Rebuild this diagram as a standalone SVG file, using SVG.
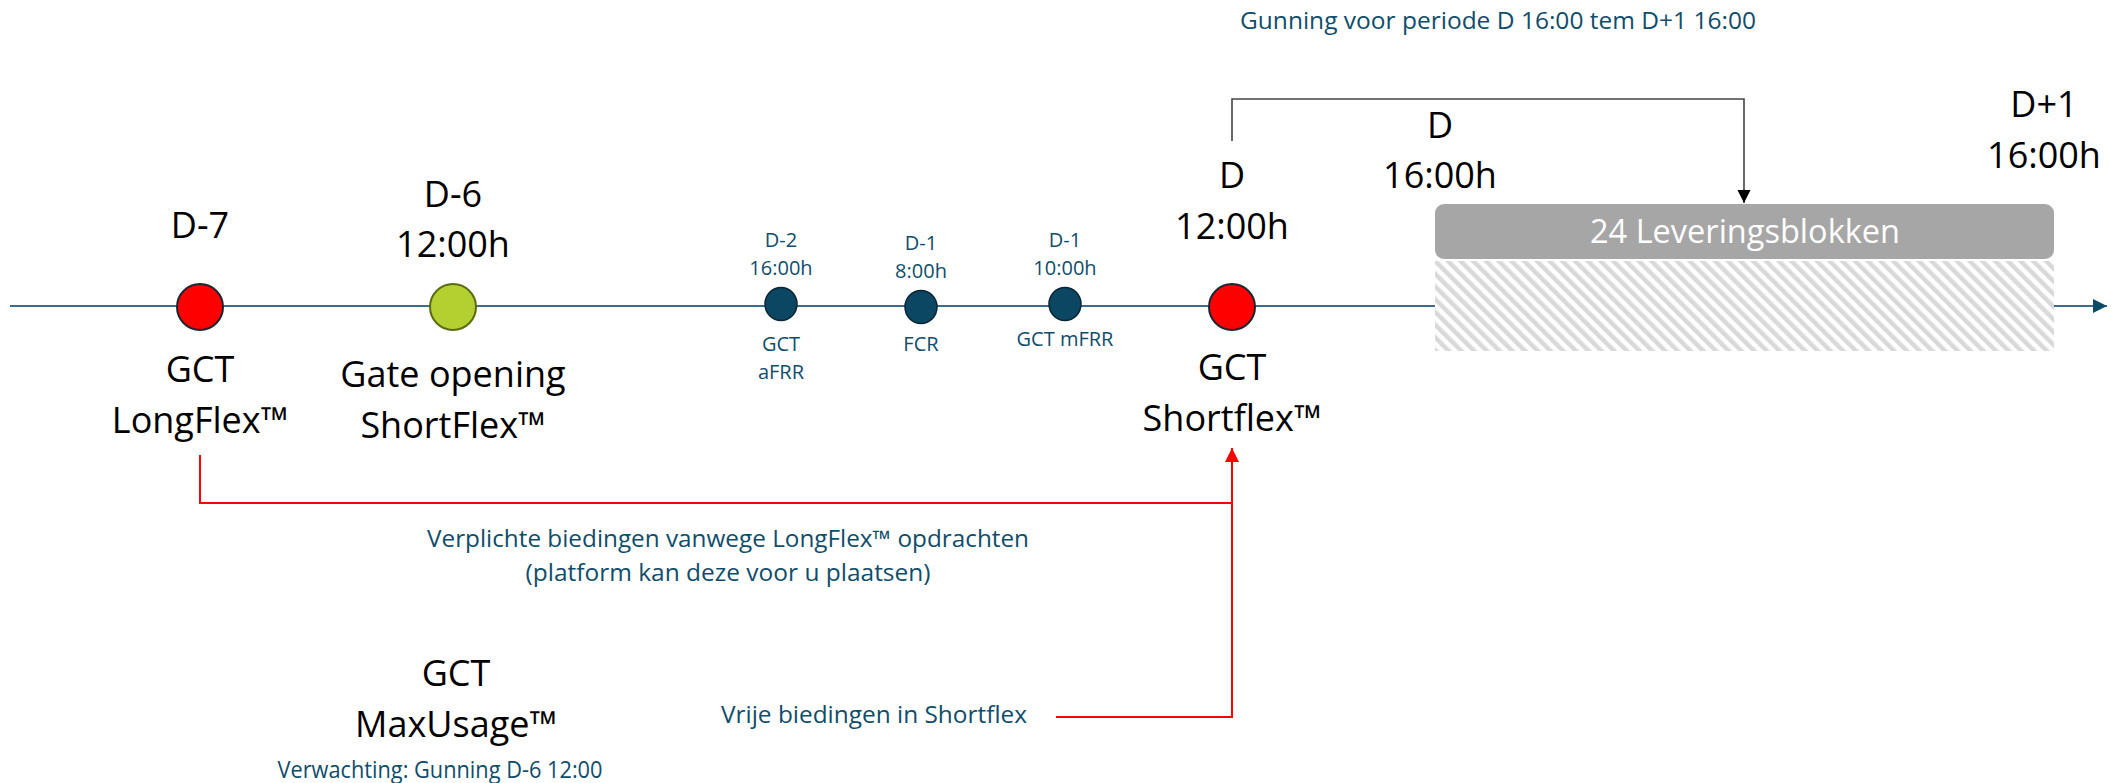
<svg xmlns="http://www.w3.org/2000/svg" width="2114" height="783" viewBox="0 0 2114 783">
<style>
  .big { font-family: "Open Sans", "Noto Sans", sans-serif; font-size: 36px; fill: #000; text-anchor: middle; }
  .sm { font-family: "Open Sans", "Noto Sans", sans-serif; font-size: 20px; fill: #0f4d6b; text-anchor: middle; }
  .note { font-family: "Open Sans", "Noto Sans", sans-serif; font-size: 23px; fill: #0f4d6b; text-anchor: middle; }
  .blk { font-family: "Open Sans", "Noto Sans", sans-serif; font-size: 32px; fill: #fff; text-anchor: middle; }
  .red { fill: #ff0000; stroke: #1b2730; stroke-width: 2; }
  .grn { fill: #b3cf30; stroke: #5b6b12; stroke-width: 2; }
  .dot { fill: #0b4763; stroke: #0a2535; stroke-width: 1.5; }
  .tl { stroke: #3a6f8c; stroke-width: 2; fill: none; }
  .rl { stroke: #ff0000; stroke-width: 2; fill: none; }
  .kl { stroke: #444; stroke-width: 1.6; fill: none; }
</style>
<defs>
  <marker id="arrTeal" markerUnits="userSpaceOnUse" markerWidth="16" markerHeight="14" refX="14" refY="7" orient="auto">
    <path d="M0,0 L14,7 L0,14 Z" fill="#0d4a66"/>
  </marker>
  <marker id="arrRed" markerUnits="userSpaceOnUse" markerWidth="16" markerHeight="16" refX="14" refY="7" orient="auto">
    <path d="M0,0 L14,7 L0,14 Z" fill="#ff0000"/>
  </marker>
  <marker id="arrBlk" markerUnits="userSpaceOnUse" markerWidth="16" markerHeight="14" refX="13" refY="6.5" orient="auto">
    <path d="M0,0 L13,6.5 L0,13 Z" fill="#000"/>
  </marker>
  <pattern id="hatch" width="9" height="9" patternUnits="userSpaceOnUse" patternTransform="rotate(-45)">
    <rect width="9" height="9" fill="#fff"/>
    <rect width="4.5" height="9" fill="#d9d9d9"/>
  </pattern>
</defs>

<g id="connectors">
  <line class="tl" x1="10" y1="306" x2="2107" y2="306" marker-end="url(#arrTeal)"/>
  <polyline class="rl" points="200,455 200,503 1232,503"/>
  <polyline class="rl" points="1056,717 1232,717 1232,448" marker-end="url(#arrRed)"/>
  <polyline class="kl" points="1232,141 1232,99 1744,99 1744,203" marker-end="url(#arrBlk)"/>
</g>

<g id="delivery">
  <rect x="1435" y="261" width="619" height="90" fill="url(#hatch)"/>
  <rect x="1435" y="204" width="619" height="55" rx="9" fill="#a6a6a6"/>
  <text class="blk" x="1745" y="243" textLength="310" lengthAdjust="spacingAndGlyphs">24 Leveringsblokken</text>
</g>

<g id="node-d7">
  <ellipse class="red" cx="200" cy="307" rx="23" ry="23"/>
  <text class="big" x="200" y="238">D-7</text>
  <text class="big" x="200" y="382">GCT</text>
  <text class="big" x="200" y="433">LongFlex™</text>
</g>

<g id="node-d6">
  <ellipse class="grn" cx="453" cy="307" rx="23" ry="23"/>
  <text class="big" x="453" y="207">D-6</text>
  <text class="big" x="453" y="257">12:00h</text>
  <text class="big" x="453" y="387">Gate opening</text>
  <text class="big" x="453" y="438">ShortFlex™</text>
</g>

<g id="node-afrr">
  <ellipse class="dot" cx="781" cy="304" rx="16" ry="16.5"/>
  <text class="sm" x="781" y="247">D-2</text>
  <text class="sm" x="781" y="275">16:00h</text>
  <text class="sm" x="781" y="351">GCT</text>
  <text class="sm" x="781" y="379">aFRR</text>
</g>

<g id="node-fcr">
  <ellipse class="dot" cx="921" cy="307" rx="16" ry="16.5"/>
  <text class="sm" x="921" y="250">D-1</text>
  <text class="sm" x="921" y="278">8:00h</text>
  <text class="sm" x="921" y="351">FCR</text>
</g>

<g id="node-mfrr">
  <ellipse class="dot" cx="1065" cy="304" rx="16" ry="16.5"/>
  <text class="sm" x="1065" y="247">D-1</text>
  <text class="sm" x="1065" y="275">10:00h</text>
  <text class="sm" x="1065" y="346">GCT mFRR</text>
</g>

<g id="node-d12">
  <ellipse class="red" cx="1232" cy="307" rx="23" ry="23"/>
  <text class="big" x="1232" y="188">D</text>
  <text class="big" x="1232" y="239">12:00h</text>
  <text class="big" x="1232" y="380">GCT</text>
  <text class="big" x="1232" y="431">Shortflex™</text>
</g>

<g id="label-d16">
  <text class="big" x="1440" y="138">D</text>
  <text class="big" x="1440" y="188">16:00h</text>
</g>

<g id="label-d1">
  <text class="big" x="2044" y="117">D+1</text>
  <text class="big" x="2044" y="168">16:00h</text>
</g>

<g id="label-gunning">
  <text class="note" x="1498" y="29" textLength="516" lengthAdjust="spacingAndGlyphs">Gunning voor periode D 16:00 tem D+1 16:00</text>
</g>

<g id="label-verplicht">
  <text class="note" x="728" y="547" textLength="602" lengthAdjust="spacingAndGlyphs">Verplichte biedingen vanwege LongFlex™ opdrachten</text>
  <text class="note" x="728" y="581" textLength="405" lengthAdjust="spacingAndGlyphs">(platform kan deze voor u plaatsen)</text>
</g>

<g id="node-maxusage">
  <text class="big" x="456" y="686">GCT</text>
  <text class="big" x="456" y="737">MaxUsage™</text>
  <text class="note" x="440" y="778" textLength="325" lengthAdjust="spacingAndGlyphs">Verwachting: Gunning D-6 12:00</text>
</g>

<g id="label-vrije">
  <text class="note" x="874" y="723" textLength="306" lengthAdjust="spacingAndGlyphs">Vrije biedingen in Shortflex</text>
</g>
</svg>
